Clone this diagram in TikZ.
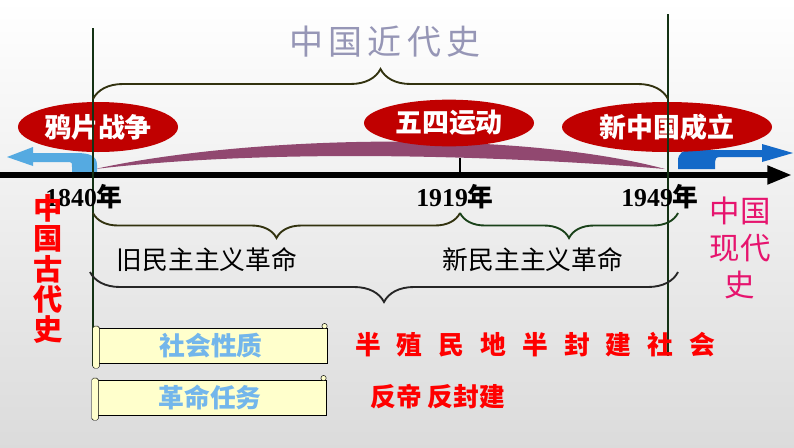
\documentclass[tikz,border=0pt]{standalone}
\usepackage{fontspec}
\setmainfont{Liberation Serif}
\newfontfamily\cjk{Noto Sans CJK SC}
\newfontfamily\cjkspaced[LetterSpace=62]{Noto Sans CJK SC}
\newfontfamily\titlefont[LetterSpace=15]{Noto Sans CJK SC}
\usetikzlibrary{shapes.geometric,decorations.pathreplacing,arrows.meta}

\definecolor{eventred}{RGB}{192,0,0}
\definecolor{bandpurple}{RGB}{145,72,112}
\definecolor{skyblue}{RGB}{85,170,225}
\definecolor{deepblue}{RGB}{20,105,200}
\definecolor{bracedark}{RGB}{50,50,15}
\definecolor{bracegreen}{RGB}{25,65,25}
\definecolor{edgegreen}{RGB}{20,50,20}
\definecolor{titlegray}{RGB}{150,150,182}
\definecolor{modernpink}{RGB}{230,20,110}
\definecolor{scrollyellow}{RGB}{255,255,204}
\definecolor{scrolltext}{RGB}{115,182,235}

\tikzset{
  event/.style={ellipse, fill=eventred, text=white, inner sep=0pt,
    font=\cjk\bfseries\fontsize{23}{23}\selectfont},
  year/.style={font=\bfseries\fontsize{22}{22}\selectfont, inner sep=0pt},
  period/.style={font=\cjk\fontsize{22}{22}\selectfont, inner sep=0pt},
  bracket/.style={decorate, decoration={brace, amplitude=#1}, line width=1.6pt},
  bracket/.default=0.75cm,
  scrollbox/.style={draw, fill=scrollyellow, minimum width=6.96cm, minimum height=1.05cm,
    inner sep=0pt, text=scrolltext, font=\cjk\bfseries\fontsize{22}{22}\selectfont},
  answer/.style={anchor=west, text=red, inner sep=0pt},
}

\begin{document}
\begin{tikzpicture}[x=0.03cm, y=-0.03cm]
  \shade[top color=white, middle color=gray!5, bottom color=gray!28] (0,0) rectangle (794,447);
  \useasboundingbox (0,0) rectangle (794,447);

  % band over the timeline
  \fill[bandpurple] (95,169) .. controls (250,135) and (520,130) .. (665,169)
    .. controls (560,160) and (300,145) .. (95,169) -- cycle;
  % arrows into the past and the present
  \fill[skyblue] (97,176) -- (97,165) .. controls (97,156) and (90,153) .. (76,153) -- (33,153)
    -- (33,147) -- (7,157) -- (33,166) -- (33,162) -- (70,162)
    .. controls (72,162) and (72,164) .. (72,167) -- (72,176) -- cycle;
  \fill[deepblue] (678,169) -- (678,161) .. controls (678,153) and (683,150) .. (692,150) -- (762,150)
    -- (762,144) -- (793,153) -- (762,162) -- (762,157) -- (720,157)
    .. controls (716,157) and (715,159) .. (715,162) -- (715,169) -- cycle;

  % events
  \node[event, minimum width=4.8cm, minimum height=1.5cm] (opium) at (98,127) {鸦片战争};
  \node[event, minimum width=5.1cm, minimum height=1.4cm] (mayfourth) at (449,123) {五四运动};
  \node[event, minimum width=6.3cm, minimum height=1.5cm] (prc) at (667,127) {新中国成立};

  % timeline
  \coordinate (start) at (0,175);
  \coordinate (end) at (792,175);
  \coordinate (tick) at (460,175);
  \draw[line width=5pt, -{Triangle[length=21pt,width=15pt]}] (start) -- (end);
  \draw[line width=1pt] (tick) -- ++(0,-17);

  % borders of the period
  \draw[edgegreen, line width=1.6pt] (93,28) -- (93,366);
  \draw[edgegreen, line width=1.6pt] (668,14) -- (668,356);

  % braces
  \draw[bracedark, bracket=0.9cm] (93,99) -- (668,99);
  \draw[bracedark, bracket] (460,213) -- (93,213);
  \draw[bracegreen, bracket] (678,213) -- (460,213);
  \draw[black!85, bracket=0.9cm] (678,272) -- (90,272);

  \node[text=titlegray, font=\titlefont\fontsize{29}{29}\selectfont, inner sep=0pt] (title) at (385,42) {中国近代史};

  % years
  \node[year] (y1840) at (84,197) {1840{\cjk 年}};
  \node[year] (y1919) at (455,197) {1919{\cjk 年}};
  \node[year] (y1949) at (660,197) {1949{\cjk 年}};

  \node[period] (old) at (207,260) {旧民主主义革命};
  \node[period] (new) at (533,260) {新民主主义革命};

  \node[text=red, align=center, inner sep=0pt, font=\cjk\bfseries\fontsize{25}{26}\selectfont]
    (ancient) at (48,269) {中\\国\\古\\代\\史};
  \node[text=modernpink, align=center, inner sep=0pt, font=\cjk\fontsize{26}{31.5}\selectfont]
    (modern) at (740,248) {中国\\现代\\史};

  % scrolls
  \node[scrollbox] (nature) at (211,345.5) {社会性质};
  \node[scrollbox] (task) at (210,397.5) {革命任务};
  \foreach \s in {nature,task} {
    \draw[fill=scrollyellow, rounded corners=1.5pt] ([xshift=-0.06cm,yshift=0.05cm]\s.north west)
      rectangle ([xshift=0.14cm,yshift=-0.15cm]\s.south west);
    \draw[fill=scrollyellow] ([xshift=-0.08cm,yshift=0.05cm]\s.north east) circle (0.08cm);
  }

  \node[answer, font=\cjkspaced\bfseries\fontsize{22}{22}\selectfont] (natureans) at (355,345) {半殖民地半封建社会};
  \node[answer, font=\cjk\bfseries\fontsize{22}{22}\selectfont] (taskans) at (370,397) {反帝 反封建};
\end{tikzpicture}
\end{document}
